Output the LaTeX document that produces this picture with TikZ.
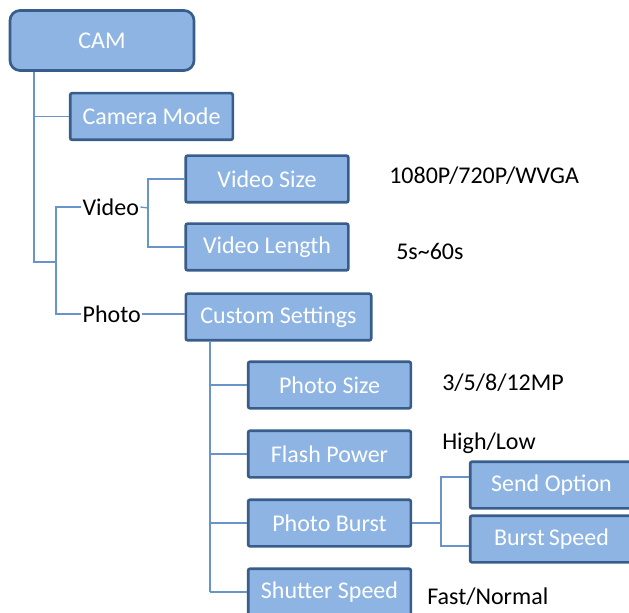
\documentclass[tikz,border=0pt]{standalone}
\usepackage{fontspec}
\setmainfont{Carlito}
\definecolor{boxfill}{RGB}{141,180,227}
\definecolor{boxline}{RGB}{56,93,138}
\definecolor{linkcol}{RGB}{105,148,202}
\tikzset{
  menubox/.style={draw=boxline, line width=2pt, fill=boxfill, text=white, rounded corners=1.5pt,
    minimum width=122pt, minimum height=35pt, inner sep=0pt},
  choice/.style={anchor=west, inner sep=0pt, text=black},
  link/.style={draw=linkcol, line width=1pt}
}
\begin{document}
\begin{tikzpicture}[x=0.75pt, y=-0.75pt, font=\fontsize{18}{22}\selectfont]
\useasboundingbox (0,0) rectangle (629,613);

\node[menubox, rounded corners=7.5pt, minimum width=138pt, minimum height=45pt] (cam) at (102,40.5) {CAM};
\node[menubox] (mode) at (151.5,116.5) {Camera Mode};

\node[choice, inner sep=1pt] (video) at (81,207) {Video};
\node[choice, inner sep=1pt] (photo) at (81,314) {Photo};

\node[menubox] (vsize) at (267,179) {Video Size};
\node[menubox] (vlen) at (267,247) {Video Length};
\node[menubox, minimum width=139pt] (cust) at (278.5,317) {Custom Settings};

\node[menubox] (psize) at (329.5,385) {Photo Size};
\node[menubox] (flash) at (329.5,454) {Flash Power};
\node[menubox] (burst) at (329.5,523) {Photo Burst};
\node[menubox] (shutter) at (329.5,592) {Shutter Speed};

\node[menubox] (send) at (551.5,485) {Send Option};
\node[menubox] (bspeed) at (551.5,539) {Burst\,Speed};

% values
\node[choice] (res) at (389,176) {1080P/720P/WVGA};
\node[choice] (len) at (396,251) {5s\textasciitilde60s};
\node[choice] (mp) at (442,383) {3/5/8/12MP};
\node[choice] (hl) at (442,443) {High/Low};
\node[choice] (fn) at (427,597) {Fast/Normal};

% tree lines
\coordinate (r0) at (34,262);
\coordinate (r1) at (56,262);
\coordinate (r2) at (148,208);
\coordinate (r3) at (210,341);
\coordinate (s0) at (441,523);
\coordinate (s1) at (441,477);
\coordinate (s2) at (441,546);

\draw[link] (r0 |- cam.south) -- (r0) -- (r1);
\draw[link] (r0 |- mode.west) -- (mode.west);
\draw[link] (video.west) -| (r1 |- photo.west) -- (photo.west);
\draw[link] (video.east) -- (r2);
\draw[link] (vsize.west) -| (r2 |- vlen.west) -- (vlen.west);
\draw[link] (photo.east) -- (photo.east -| cust.west);

\draw[link] (r3 |- cust.south) -- (r3 |- shutter.west);
\foreach \n in {psize,flash,burst,shutter}
  \draw[link] (r3 |- \n.west) -- (\n.west);

\draw[link] (burst.east) -- (s0);
\draw[link] (s1 -| send.west) -- (s1) -- (s2) -- (s2 -| bspeed.west);
\end{tikzpicture}
\end{document}
